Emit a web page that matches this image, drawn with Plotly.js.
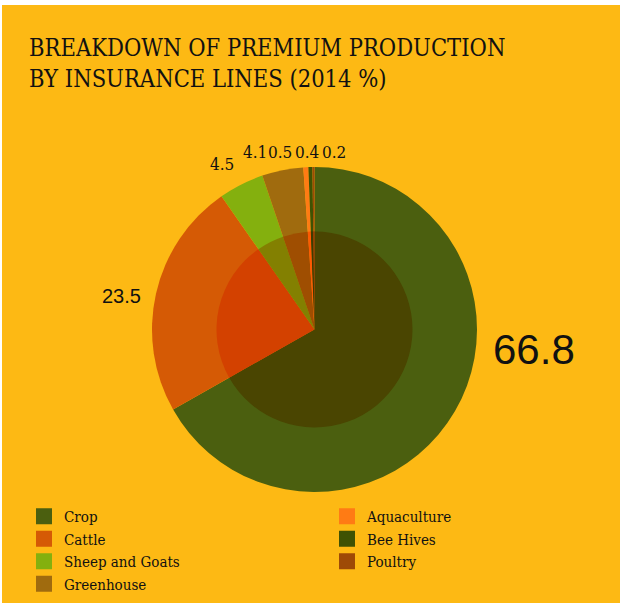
<!DOCTYPE html>
<html>
<head>
<meta charset="utf-8">
<script src="https://cdn.plot.ly/plotly-3.0.1.min.js"></script>
<style>html,body{margin:0;padding:0;background:#fff;}#chart{width:620px;height:603px;}</style>
</head>
<body>
<div id="chart"></div>
<script>
// ---- data ----
const categories = ['Crop', 'Cattle', 'Sheep and Goats', 'Greenhouse', 'Aquaculture', 'Bee Hives', 'Poultry'];
const shares = [66.8, 23.5, 4.5, 4.1, 0.5, 0.4, 0.2];
const sliceColors = ['#4B5F0F', '#D55A05', '#84B00E', '#A06B0E', '#FF7B14', '#3F5203', '#9E4A06'];
const legendColumn = [1, 1, 1, 1, 2, 2, 2];

// ---- layout helpers (positions / styles, not data) ----
const W = 620, H = 603;
const BG = '#FDB914';
const SLAB = '"DejaVu Serif Condensed", "DejaVu Serif", serif';
const SANS = '"Liberation Sans", Arial, sans-serif';
const center = [314.5, 329.5];
const outerR = 162.5, innerR = 98;
// label anchor positions in pixels, one per category
const labelPx = [[534, 349], [121, 296], [222, 164], [255, 152], [280, 152], [307, 152], [334, 152]];
const labelSize = [42, 20, 17, 17, 17, 17, 17];
const labelFont = [SANS, SANS, SLAB, SLAB, SLAB, SLAB, SLAB];

function px2x(x) { return x / W; }
function px2y(y) { return 1 - y / H; }
function domainFor(r) {
  return { x: [px2x(center[0] - r), px2x(center[0] + r)], y: [px2y(center[1] + r), px2y(center[1] - r)] };
}
function hexToRgb(h) { const n = parseInt(h.slice(1), 16); return [(n >> 16) & 255, (n >> 8) & 255, n & 255]; }
function multiply(c, b) {
  const a = hexToRgb(c), m = hexToRgb(b);
  return 'rgb(' + a.map((v, i) => Math.round(v * m[i] / 255)).join(',') + ')';
}
const innerColors = sliceColors.map(c => multiply(c, BG));

const outerPie = {
  type: 'pie', labels: categories, values: shares, sort: false, direction: 'clockwise', rotation: 0,
  marker: { colors: sliceColors, line: { width: 0 } }, textinfo: 'none', hoverinfo: 'label+value',
  showlegend: false, domain: domainFor(outerR)
};
const innerPie = {
  type: 'pie', labels: categories, values: shares, sort: false, direction: 'clockwise', rotation: 0,
  marker: { colors: innerColors, line: { width: 0 } }, textinfo: 'none', hoverinfo: 'skip',
  showlegend: false, domain: domainFor(innerR)
};
// legend entries (one per category), in two columns
const legendTraces = categories.map((c, i) => ({
  type: 'scatter', mode: 'markers', x: [null], y: [null], name: c,
  marker: { symbol: 'square', size: 16, color: sliceColors[i] },
  legend: legendColumn[i] === 1 ? 'legend' : 'legend2', hoverinfo: 'skip'
}));

const annotations = shares.map((v, i) => ({
  text: v.toFixed(1), x: px2x(labelPx[i][0]), y: px2y(labelPx[i][1]), xref: 'paper', yref: 'paper',
  xanchor: 'center', yanchor: 'middle', showarrow: false,
  font: { family: labelFont[i], size: labelSize[i], color: '#111' }
}));

const legendCommon = {
  orientation: 'v', xanchor: 'left', yanchor: 'top', bgcolor: 'rgba(0,0,0,0)', borderwidth: 0,
  font: { family: SLAB, size: 15, color: '#111' }, itemsizing: 'trace'
};

const layout = {
  width: W, height: H,
  paper_bgcolor: '#ffffff', plot_bgcolor: 'rgba(0,0,0,0)',
  margin: { l: 0, r: 0, t: 0, b: 0 },
  title: {
    text: 'BREAKDOWN OF PREMIUM PRODUCTION<br>BY INSURANCE LINES (2014 %)',
    x: px2x(29), xanchor: 'left', xref: 'paper', y: px2y(56), yanchor: 'top', yref: 'paper',
    font: { family: SLAB, size: 23.5, color: '#111' }
  },
  xaxis: { visible: false, fixedrange: true },
  yaxis: { visible: false, fixedrange: true },
  showlegend: true,
  legend: Object.assign({ x: px2x(24), y: px2y(500) }, legendCommon),
  legend2: Object.assign({ x: px2x(327), y: px2y(500) }, legendCommon),
  shapes: [{ type: 'rect', xref: 'paper', yref: 'paper', x0: px2x(2), x1: 1, y0: 0, y1: px2y(5),
    fillcolor: BG, line: { width: 0 }, layer: 'below' }],
  annotations: annotations
};

Plotly.newPlot('chart', [outerPie, innerPie].concat(legendTraces), layout, { displayModeBar: false, staticPlot: true });
</script>
</body>
</html>
